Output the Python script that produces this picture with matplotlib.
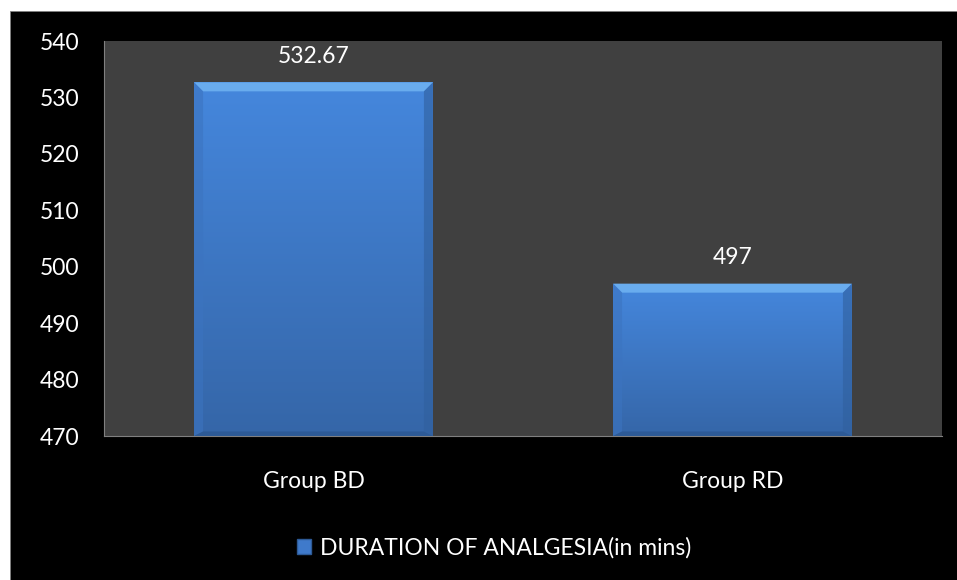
import numpy as np
import matplotlib.pyplot as plt
from matplotlib.patches import Rectangle, Polygon
from matplotlib.colors import LinearSegmentedColormap

categories = ['Group BD', 'Group RD']
values = [532.67, 497]
value_labels = ['532.67', '497']
series_name = 'DURATION OF ANALGESIA(in mins)'
y_ticks = [470, 480, 490, 500, 510, 520, 530, 540]

plt.rcParams['font.family'] = ['Lato', 'DejaVu Sans']

fig = plt.figure(figsize=(9.57, 5.80), dpi=100)
fig.patch.set_facecolor('white')

W, H = 957, 580
# black chart background with a thin white margin at top/left
fig.patches.append(Rectangle((10 / W, 0), 1 - 10 / W, 1 - 11 / H,
                             transform=fig.transFigure, facecolor='black',
                             edgecolor='#808080', linewidth=0.6, zorder=0))

ax = fig.add_axes([104 / W, 1 - 436 / H, (942 - 104) / W, (436 - 41) / H])
ax.set_facecolor('#404040')
ax.set_zorder(1)

x = np.arange(len(categories))
bar_width = 0.57
bars = ax.bar(x, [v - 470 for v in values], bottom=470, width=bar_width,
              color='#3f7acb', edgecolor='none', zorder=2)

# vertical gradient + bevel on each bar
grad = np.linspace(0, 1, 256).reshape(-1, 1)
cmap = LinearSegmentedColormap.from_list('bar', ['#3566a8', '#4587dd'])
for b in bars:
    x0, y0 = b.get_x(), b.get_y()
    w, h = b.get_width(), b.get_height()
    im = ax.imshow(grad, extent=[x0, x0 + w, y0, y0 + h], origin='lower',
                   cmap=cmap, aspect='auto', zorder=3)
    im.set_clip_path(b)
    bx = 9 / 838 * 2
    by = 9 / 395 * 70
    top = y0 + h
    ax.add_patch(Polygon([[x0, top], [x0 + w, top], [x0 + w - bx, top - by], [x0 + bx, top - by]],
                         closed=True, facecolor='#69acee', edgecolor='none', zorder=4))
    ax.add_patch(Polygon([[x0, top], [x0 + bx, top - by], [x0 + bx, y0 + by * 0.5], [x0, y0]],
                         closed=True, facecolor='#3c74c0', edgecolor='none', alpha=0.6, zorder=4))
    ax.add_patch(Polygon([[x0 + w, top], [x0 + w - bx, top - by], [x0 + w - bx, y0 + by * 0.5], [x0 + w, y0]],
                         closed=True, facecolor='#30609e', edgecolor='none', alpha=0.6, zorder=4))
    ax.add_patch(Polygon([[x0, y0], [x0 + bx, y0 + by * 0.5], [x0 + w - bx, y0 + by * 0.5], [x0 + w, y0]],
                         closed=True, facecolor='#2d5a96', edgecolor='none', zorder=4))

for xi, v, lab in zip(x, values, value_labels):
    ax.text(xi, v + 2.7, lab, ha='center', va='bottom', color='white', fontsize=16.5)

ax.set_xlim(-0.5, 1.5)
ax.set_ylim(470, 540)
ax.set_yticks(y_ticks)
ax.set_xticks(x)
ax.set_xticklabels(categories)
ax.tick_params(axis='y', colors='white', labelsize=16.5, length=0, pad=18)
ax.tick_params(axis='x', colors='white', labelsize=16.5, length=0, pad=25)
for s in ['top', 'right']:
    ax.spines[s].set_visible(False)
ax.spines['left'].set_color('#808080')
ax.spines['bottom'].set_color('#808080')
ax.spines['left'].set_linewidth(0.8)
ax.spines['bottom'].set_linewidth(0.8)

leg = fig.legend([Rectangle((0, 0), 1, 1, facecolor='#3f7acb', edgecolor='#2d5a96')],
                 [series_name], loc='center', bbox_to_anchor=(494 / W, 1 - 548 / H),
                 frameon=False, fontsize=16.5, handlelength=0.6, handleheight=0.6,
                 handletextpad=0.4, labelcolor='white')

fig.savefig('out.png', dpi=100, facecolor=fig.get_facecolor())
